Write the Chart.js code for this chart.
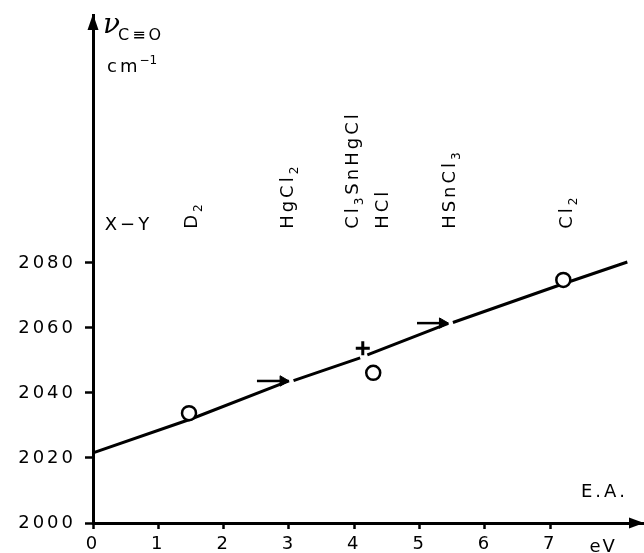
<!DOCTYPE html>
<html>
<head>
<meta charset="utf-8">
<script src="https://cdn.jsdelivr.net/npm/chart.js@4"></script>
<style>
  html, body { margin: 0; padding: 0; background: #fff; }
</style>
</head>
<body>
<canvas id="chart" width="644" height="553"></canvas>
<script>
const xTicks = [0, 1, 2, 3, 4, 5, 6, 7];
const yTicks = [2000, 2020, 2040, 2060, 2080];

// drawn correlation line, broken at the two arrows and at the cross
const lineX = [0, 1.5, 3.0, 3.04, 3.07, 4.09, 4.15, 4.2, 5.44, 5.48, 5.51, 7.2, 8.18];
const lineY = [2021.6, 2032.0, 2043.7, null, 2043.8, 2050.8, null, 2051.7, 2061.4, null, 2061.7, 2073.6, 2080.3];

// open circles (D2, HCl, Cl2) and the cross (Cl3SnHgCl)
const circleX = [1.47, 4.29, 7.2];
const circleY = [2033.8, 2046.2, 2074.8];
const crossX = [4.13];
const crossY = [2053.8];

// small horizontal arrows (HgCl2, HSnCl3)
const arrow1X = [2.51, 2.91];
const arrow1Y = [2043.7, 2043.7];
const arrow2X = [4.96, 5.35];
const arrow2Y = [2061.5, 2061.5];

// vertical compound labels ("_" marks a subscript)
const compounds = ["D_2", "HgCl_2", "Cl_3SnHgCl", "HCl", "HSnCl_3", "Cl_2"];
const compoundX = [1.5, 2.96, 3.96, 4.42, 5.44, 7.23];
const compoundY = 2090.5;

const FONT = '"DejaVu Sans", sans-serif';
const toPts = (xs, ys) => xs.map((x, i) => ({ x: x, y: ys[i] }));

// draws text char by char with a bit of spacing, "_" = subscript
const drawRich = (ctx, text, size, subSize, gap) => {
  let x = 0;
  for (let i = 0; i < text.length; i++) {
    let ch = text[i];
    let sub = false;
    if (ch === "_") {
      ch = text[++i];
      sub = true;
    }
    ctx.font = (sub ? subSize : size) + "px " + FONT;
    ctx.fillText(ch, x, sub ? 5 : 0);
    x += ctx.measureText(ch).width + gap;
  }
  return x;
};

const annotations = {
  id: "annotations",
  beforeDraw(chart) {
    chart.ctx.letterSpacing = "3px";
  },
  afterDraw(chart) {
    const ctx = chart.ctx;
    const xs = chart.scales.x;
    const ys = chart.scales.y;
    const area = chart.chartArea;
    ctx.save();
    ctx.letterSpacing = "0px";
    ctx.fillStyle = "#000";
    ctx.textBaseline = "alphabetic";
    ctx.textAlign = "left";

    // axis arrow heads
    ctx.beginPath();
    ctx.moveTo(area.left, area.top - 1);
    ctx.lineTo(area.left - 5.5, area.top + 15);
    ctx.lineTo(area.left + 5.5, area.top + 15);
    ctx.closePath();
    ctx.fill();
    ctx.beginPath();
    ctx.moveTo(area.right + 1, area.bottom);
    ctx.lineTo(area.right - 14, area.bottom - 5.5);
    ctx.lineTo(area.right - 14, area.bottom + 5.5);
    ctx.closePath();
    ctx.fill();

    // compound labels, rotated
    compounds.forEach((name, i) => {
      ctx.save();
      ctx.translate(xs.getPixelForValue(compoundX[i]) + 6.5, ys.getPixelForValue(compoundY));
      ctx.rotate(-Math.PI / 2);
      drawRich(ctx, name, 18, 12, 3);
      ctx.restore();
    });

    // X-Y
    ctx.save();
    ctx.translate(xs.getPixelForValue(0.18), ys.getPixelForValue(2090.3));
    drawRich(ctx, "X\u2212Y", 18, 12, 3);
    ctx.restore();

    // y axis title
    ctx.font = "italic 28px \"DejaVu Serif\", serif";
    ctx.fillText("\u03bd", area.left + 10, 33);
    ctx.save();
    ctx.translate(area.left + 25, 40);
    drawRich(ctx, "C\u2261O", 16, 12, 3);
    ctx.restore();
    ctx.save();
    ctx.translate(area.left + 14, 72);
    const w = drawRich(ctx, "cm", 18, 12, 3);
    ctx.font = "12px " + FONT;
    ctx.fillText("\u22121", w - 1, -8);
    ctx.restore();

    // x axis texts
    ctx.save();
    ctx.translate(xs.getPixelForValue(7.47), ys.getPixelForValue(2007.9));
    drawRich(ctx, "E.A.", 18, 12, 3);
    ctx.restore();
    ctx.save();
    ctx.translate(xs.getPixelForValue(7.6), 552);
    drawRich(ctx, "eV", 18, 12, 2);
    ctx.restore();

    ctx.restore();
  },
};

new Chart(document.getElementById("chart").getContext("2d"), {
  type: "scatter",
  data: {
    datasets: [
      {
        data: toPts(crossX, crossY),
        pointStyle: "cross",
        pointRadius: 7,
        pointBorderWidth: 3,
        pointBorderColor: "#000",
        clip: false,
      },
      {
        data: toPts(circleX, circleY),
        pointStyle: "circle",
        pointRadius: 7,
        pointBorderWidth: 2.5,
        pointBorderColor: "#000",
        pointBackgroundColor: "#fff",
        clip: false,
      },
      {
        data: toPts(arrow1X, arrow1Y),
        showLine: true,
        borderColor: "#000",
        borderWidth: 2.5,
        pointStyle: "triangle",
        pointRotation: 90,
        pointRadius: [0, 6],
        pointBackgroundColor: "#000",
        pointBorderColor: "#000",
        pointBorderWidth: 1,
      },
      {
        data: toPts(arrow2X, arrow2Y),
        showLine: true,
        borderColor: "#000",
        borderWidth: 2.5,
        pointStyle: "triangle",
        pointRotation: 90,
        pointRadius: [0, 6],
        pointBackgroundColor: "#000",
        pointBorderColor: "#000",
        pointBorderWidth: 1,
      },
      {
        data: toPts(lineX, lineY),
        showLine: true,
        spanGaps: false,
        borderColor: "#000",
        borderWidth: 3,
        pointRadius: 0,
        clip: false,
      },
    ],
  },
  options: {
    responsive: false,
    animation: false,
    layout: { autoPadding: false, padding: { top: 15, right: 1, left: 0, bottom: 0 } },
    plugins: {
      legend: { display: false },
      tooltip: { enabled: false },
    },
    scales: {
      x: {
        type: "linear",
        min: 0,
        max: 8.42,
        afterFit: (scale) => {
          scale.height = 30;
          scale.paddingLeft = 0;
          scale.paddingRight = 0;
        },
        afterBuildTicks: (scale) => {
          scale.ticks = xTicks.map((v) => ({ value: v }));
        },
        ticks: {
          padding: 5,
          color: "#000",
          font: { family: FONT, size: 18 },
          maxRotation: 0,
          callback: (v) => String(v),
        },
        grid: {
          drawOnChartArea: false,
          tickLength: 6,
          tickWidth: 2.5,
          tickColor: "#000",
        },
        border: { color: "#000", width: 3 },
      },
      y: {
        type: "linear",
        min: 2000,
        max: 2156.3,
        afterFit: (scale) => {
          scale.width = 93;
          scale.paddingTop = 0;
          scale.paddingBottom = 0;
        },
        afterBuildTicks: (scale) => {
          scale.ticks = yTicks.map((v) => ({ value: v }));
        },
        ticks: {
          padding: 9,
          color: "#000",
          font: { family: FONT, size: 18 },
          callback: (v) => String(v),
        },
        grid: {
          drawOnChartArea: false,
          tickLength: 8,
          tickWidth: 2.5,
          tickColor: "#000",
        },
        border: { color: "#000", width: 3 },
      },
    },
  },
  plugins: [annotations],
});
</script>
</body>
</html>
